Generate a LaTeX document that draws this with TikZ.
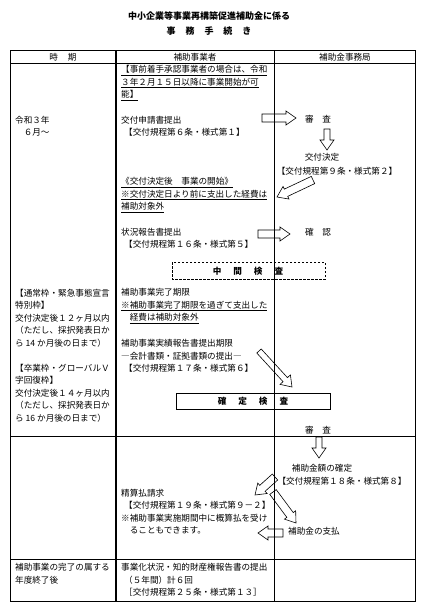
\documentclass[tikz,border=0pt]{standalone}
\usepackage{fontspec}
\setmainfont{Noto Sans CJK JP}
\usetikzlibrary{calc}

\tikzset{
  txt/.style={inner sep=0pt, align=left, anchor=west, font=\fontsize{8.6pt}{12.5pt}\selectfont},
  ctr/.style={inner sep=0pt, font=\fontsize{8.6pt}{12.5pt}\selectfont},
  ttl/.style={inner sep=0pt, font=\fontsize{9pt}{11pt}\selectfont\bfseries},
  kensa/.style={inner sep=0pt, font=\fontsize{8.6pt}{11pt}\selectfont\bfseries},
  blockarr/.style={draw, line width=0.6pt, line join=miter},
}
% hollow block arrow: [shaft half width] name, from, to
\newcommand{\hollowarrow}[4][4pt]{%
  \coordinate (#2h) at ($(#4)!10pt!(#3)$);
  \draw[blockarr] ($(#3)!#1!90:(#4)$) -- ($(#2h)!#1!90:(#4)$) -- ($(#2h)!7pt!90:(#4)$)
    -- (#4) -- ($(#2h)!7pt!-90:(#4)$) -- ($(#2h)!#1!-90:(#4)$) -- ($(#3)!#1!-90:(#4)$) -- cycle;}

\begin{document}
\begin{tikzpicture}[x=1pt, y=-1pt]
  \useasboundingbox (0,0) rectangle (425,613);
  % title
  \node[ttl] (title) at (209,16) {中小企業等事業再構築促進補助金に係る};
  \node[ttl] (subtitle) at (209,31) {事\hspace{10pt}務\hspace{10pt}手\hspace{10pt}続\hspace{10pt}き};

  % table frame
  \draw[line width=1pt] (10,50) rectangle (415,601);
  \draw[line width=0.8pt] (10,63) -- (415,63);
  \draw[line width=0.8pt] (10,436) -- (415,436);
  \draw[line width=0.8pt] (10,559) -- (415,559);
  \draw[line width=1.6pt] (116,50) -- (116,601);
  \draw[line width=0.8pt] (274,50) -- (274,601);

  % header
  \node[ctr] (hjiki) at (63,57) {時\hspace{10pt}期};
  \node[ctr] (hjigyo) at (195,57) {補助事業者};
  \node[ctr] (hjimu) at (345,57) {補助金事務局};

  % period column
  \node[txt] (reiwa) at (15,126) {令和３年\\　６月～};
  \node[txt] (tsujo) at (15,318) {【通常枠・緊急事態宣言\\特別枠】\\交付決定後１２ヶ月以内\\（ただし、採択発表日か\\ら 14 か月後の日まで）};
  \node[txt] (sotsu) at (15,393) {【卒業枠・グローバルＶ\\字回復枠】\\交付決定後１４ヶ月以内\\（ただし、採択発表日か\\ら 16 か月後の日まで）};
  \node[txt] (nendo) at (15,573.5) {補助事業の完了の属する\\年度終了後};

  % applicant column
  \node[txt] (jizen) at (121,83) {\underline{【事前着手承認事業者の場合は、令和}\\\underline{３年２月１５日以降に事業開始が可}\\\underline{能】}};
  \node[txt] (shinsei) at (121,126) {交付申請書提出\\\hspace*{3pt}【交付規程第６条・様式第１】};
  \node[txt] (kaishi) at (121,195) {\underline{《交付決定後　事業の開始》}\\\underline{※交付決定日より前に支出した経費は}\\\underline{補助対象外}};
  \node[txt] (jokyo) at (121,238) {状況報告書提出\\\hspace*{3pt}【交付規程第１６条・様式第５】};
  \node[txt] (kanryo) at (121,306) {補助事業完了期限\\\underline{※補助事業完了期限を過ぎて支出した}\\　\underline{経費は補助対象外}};
  \node[txt] (jisseki) at (121,356) {補助事業実績報告書提出期限\\―会計書類・証拠書類の提出―\\\hspace*{3pt}【交付規程第１７条・様式第６】};
  \node[txt] (seisan) at (121,511.5) {精算払請求\\\hspace*{3pt}【交付規程第１９条・様式第９－２】\\※補助事業実施期間中に概算払を受け\\　ることもできます。};
  \node[txt] (jigyoka) at (121,580) {事業化状況・知的財産権報告書の提出\\\hspace*{3pt}（５年間）計６回\\\hspace*{3pt}［交付規程第２５条・様式第１３］};

  % office column
  \node[ctr] (shinsa) at (318,119) {審　査};
  \node[ctr] (kettei) at (322,157) {交付決定};
  \node[ctr] (kettei2) at (337,171) {【交付規程第９条・様式第２】};
  \node[ctr] (kakunin) at (318,232) {確　認};
  \node[ctr] (shinsa2) at (318,430) {審　査};
  \node[ctr] (kakutei) at (322,468) {補助金額の確定};
  \node[ctr] (kakutei2) at (342,481) {【交付規程第１８条・様式第８】};
  \node[txt] (shiharai) at (288,531) {補助金の支払};

  % inspections
  \draw[dash pattern=on 2.5pt off 1.5pt, line width=0.9pt] (172,262) rectangle (325,279);
  \node[kensa] (chukan) at (248,271) {中\hspace{12pt}間\hspace{12pt}検\hspace{12pt}査};
  \draw[line width=0.9pt] (176,393) rectangle (330,409);
  \node[kensa] (kakuken) at (253,401) {確\hspace{12pt}定\hspace{12pt}検\hspace{12pt}査};

  % arrows
  \coordinate (p1) at (262,118); \coordinate (q1) at (296,118);
  \coordinate (p2) at (327,129); \coordinate (q2) at (327,150);
  \coordinate (p3) at (313,180); \coordinate (q3) at (277,197);
  \coordinate (p4) at (258,234); \coordinate (q4) at (290,234);
  \coordinate (p5) at (259,351); \coordinate (q5) at (292,387);
  \coordinate (p6) at (319,437); \coordinate (q6) at (319,458);
  \coordinate (p7) at (275,477); \coordinate (q7) at (255,495);
  \coordinate (p8) at (273,492); \coordinate (q8) at (296,523);
  \coordinate (p9) at (283,533); \coordinate (q9) at (258,533);
  \hollowarrow{ar1}{p1}{q1}
  \hollowarrow[3pt]{ar2}{p2}{q2}
  \hollowarrow{ar3}{p3}{q3}
  \hollowarrow{ar4}{p4}{q4}
  \hollowarrow[3pt]{ar5}{p5}{q5}
  \hollowarrow[3pt]{ar6}{p6}{q6}
  \hollowarrow{ar7}{p7}{q7}
  \hollowarrow{ar8}{p8}{q8}
  \hollowarrow{ar9}{p9}{q9}
\end{tikzpicture}
\end{document}
